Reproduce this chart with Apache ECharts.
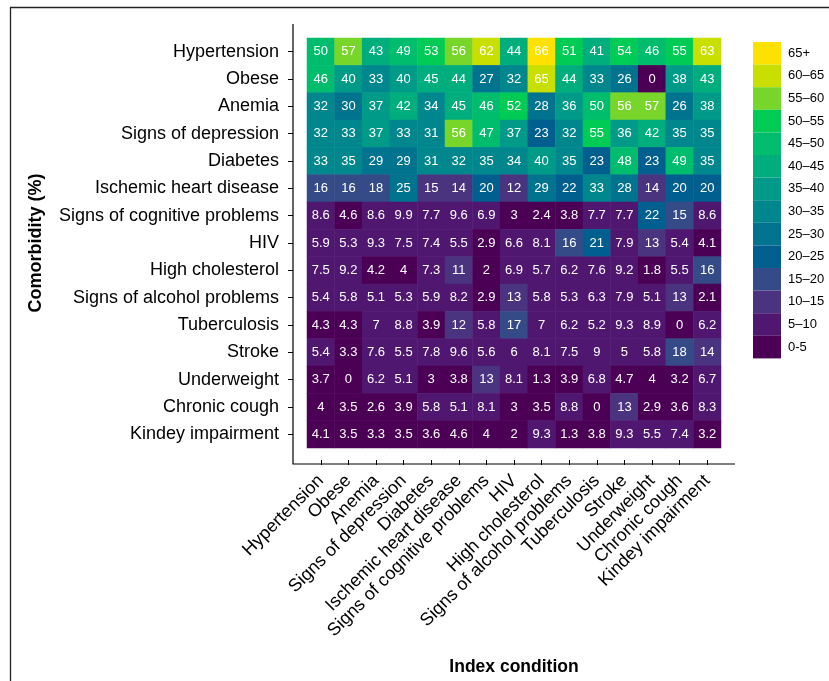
<!DOCTYPE html>
<html>
<head>
<meta charset="utf-8">
<script src="https://cdn.jsdelivr.net/npm/echarts@6/dist/echarts.min.js"></script>
<style>
  html, body { margin: 0; padding: 0; background: #fff; }
  #chart { width: 829px; height: 681px; }
</style>
</head>
<body>
<div id="chart"></div>
<script>
// Categories (same for rows and columns)
const conditions = [
  "Hypertension", "Obese", "Anemia", "Signs of depression", "Diabetes",
  "Ischemic heart disease", "Signs of cognitive problems", "HIV",
  "High cholesterol", "Signs of alcohol problems", "Tuberculosis", "Stroke",
  "Underweight", "Chronic cough", "Kindey impairment"
];

// Comorbidity prevalence (%) — one array per comorbidity row, columns = index condition
const rowHypertension  = [50, 57, 43, 49, 53, 56, 62, 44, 66, 51, 41, 54, 46, 55, 63];
const rowObese         = [46, 40, 33, 40, 45, 44, 27, 32, 64.6, 44, 33, 26, 0, 38, 43];
const rowAnemia        = [32, 30, 37, 42, 34, 45, 46, 52, 28, 36, 50, 56, 57, 26, 38];
const rowDepression    = [32, 33, 37, 33, 31, 56, 47, 37, 23, 32, 55, 36, 42, 35, 35];
const rowDiabetes      = [33, 35, 29, 29, 31, 32, 35, 34, 40, 35, 23, 48, 23, 49, 35];
const rowIschemic      = [16, 16, 18, 25.3, 15, 14, 20.4, 12, 29, 22, 33, 28, 14, 20.4, 20.4];
const rowCognitive     = [8.6, 4.6, 8.6, 9.9, 7.7, 9.6, 6.9, 3, 2.4, 3.8, 7.7, 7.7, 22, 15.3, 8.6];
const rowHIV           = [5.9, 5.3, 9.3, 7.5, 7.4, 5.5, 2.9, 6.6, 8.1, 16, 21, 7.9, 13, 5.4, 4.1];
const rowCholesterol   = [7.5, 9.2, 4.2, 4, 7.3, 11, 2, 6.9, 5.7, 6.2, 7.6, 9.2, 1.8, 5.5, 16];
const rowAlcohol       = [5.4, 5.8, 5.1, 5.3, 5.9, 8.2, 2.9, 13, 5.8, 5.3, 6.3, 7.9, 5.1, 13, 2.1];
const rowTuberculosis  = [4.3, 4.3, 7, 8.8, 3.9, 12, 5.8, 17, 7, 6.2, 5.2, 9.3, 8.9, 0, 6.2];
const rowStroke        = [5.4, 3.3, 7.6, 5.5, 7.8, 9.6, 5.6, 6, 8.1, 7.5, 9, 5.04, 5.8, 18, 14];
const rowUnderweight   = [3.7, 0, 6.2, 5.1, 3, 3.8, 13, 8.1, 1.3, 3.9, 6.8, 4.7, 4, 3.2, 6.7];
const rowChronicCough  = [4, 3.5, 2.6, 3.9, 5.8, 5.1, 8.1, 3, 3.5, 8.8, 0, 13, 2.9, 3.6, 8.3];
const rowKidney        = [4.1, 3.5, 3.3, 3.5, 3.6, 4.6, 4, 2, 9.3, 1.3, 3.8, 9.3, 5.5, 7.4, 3.2];

const rows = [rowHypertension, rowObese, rowAnemia, rowDepression, rowDiabetes,
  rowIschemic, rowCognitive, rowHIV, rowCholesterol, rowAlcohol, rowTuberculosis,
  rowStroke, rowUnderweight, rowChronicCough, rowKidney];

// Legend bins (upper-closed), labels and colours
const binLabels = ["65+", "60–65", "55–60", "50–55", "45–50", "40–45", "35–40",
  "30–35", "25–30", "20–25", "15–20", "10–15", "5–10", "0-5"];
const binLower = [65, 60, 55, 50, 45, 40, 35, 30, 25, 20, 15, 10, 5, 0];
const binColors = ["#FFE100", "#C8DF00", "#78D52A", "#00CC55", "#00BD6E", "#00AD7D",
  "#009B88", "#00878E", "#00738E", "#005F8E", "#354B88", "#4A337F", "#4F1770", "#4B0055"];

const data = [];
rows.forEach((r, yi) => r.forEach((v, xi) => data.push([xi, yi, v])));

const pieces = binLabels.map((lab, i) => {
  const p = { label: lab, color: binColors[i] };
  if (i === 0) { p.gt = binLower[i]; }
  else if (i === binLabels.length - 1) { p.gte = 0; p.lte = binLower[i - 1]; }
  else { p.gt = binLower[i]; p.lte = binLower[i - 1]; }
  return p;
});

const G = { left: 307, top: 38, width: 414, height: 414 };
const pad = 14;
const font = "Liberation Sans, Arial, Helvetica, sans-serif";

const chart = echarts.init(document.getElementById('chart'), null, { renderer: 'canvas' });
chart.setOption({
  backgroundColor: '#fff',
  animation: false,
  textStyle: { fontFamily: font },
  grid: { left: G.left, top: G.top, width: G.width, height: G.height },
  xAxis: {
    type: 'category',
    data: conditions,
    position: 'bottom',
    offset: 12,
    axisLine: { show: false },
    axisTick: { show: true, length: 5, alignWithLabel: true, lineStyle: { color: '#000', width: 1 } },
    axisLabel: { rotate: 45, fontSize: 18, color: '#000', margin: 18, interval: 0, fontFamily: font },
    splitLine: { show: false },
    name: 'Index condition',
    nameLocation: 'middle',
    nameGap: 198,
    nameTextStyle: { fontSize: 17.5, fontWeight: 'bold', color: '#000', fontFamily: font }
  },
  yAxis: {
    type: 'category',
    data: conditions,
    inverse: true,
    offset: 14,
    axisLine: { show: false },
    axisTick: { show: true, length: 5, alignWithLabel: true, lineStyle: { color: '#000', width: 1 } },
    axisLabel: { fontSize: 18, color: '#000', margin: 14, interval: 0, fontFamily: font },
    splitLine: { show: false },
    name: 'Comorbidity (%)',
    nameLocation: 'middle',
    nameGap: 248,
    nameRotate: 90,
    nameTextStyle: { fontSize: 18, fontWeight: 'bold', color: '#000', fontFamily: font }
  },
  visualMap: {
    type: 'piecewise',
    pieces: pieces,
    orient: 'vertical',
    align: 'left',
    left: 753,
    top: 42,
    padding: 0,
    itemWidth: 28,
    itemHeight: 22.6,
    itemGap: 0,
    itemSymbol: 'rect',
    textGap: 7,
    selectedMode: false,
    hoverLink: false,
    textStyle: { fontSize: 13, color: '#000', fontFamily: font }
  },
  series: [{
    type: 'heatmap',
    data: data,
    label: {
      show: true,
      color: '#fff',
      fontSize: 13,
      fontFamily: font,
      formatter: p => String(Number(p.value[2].toPrecision(2)))
    },
    itemStyle: { borderWidth: 0 },
    emphasis: { disabled: true }
  }],
  graphic: [
    {
      type: 'polyline',
      silent: true,
      shape: { points: [
        [G.left - pad, G.top - pad],
        [G.left - pad, G.top + G.height + 12],
        [G.left + G.width + pad, G.top + G.height + 12]
      ] },
      style: { stroke: '#000', lineWidth: 1.2, fill: null }
    },
    {
      type: 'rect',
      silent: true,
      shape: { x: 10.5, y: 7.5, width: 900, height: 800 },
      style: { stroke: '#222', lineWidth: 1.3, fill: null }
    }
  ]
});
</script>
</body>
</html>
